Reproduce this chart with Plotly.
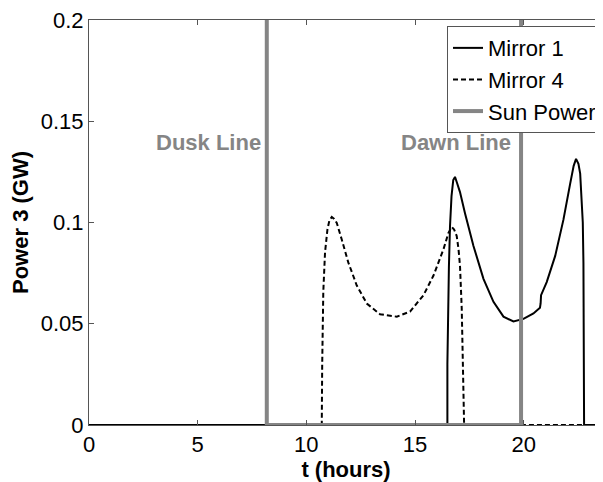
import plotly.graph_objects as go

# ---- data ----
t_mirror1 = [0, 16.49, 16.49, 16.52, 16.56, 16.61, 16.68, 16.76, 16.84, 16.92, 17.0, 17.07,
             17.30, 17.69, 18.15, 18.61, 19.07, 19.53, 19.99, 20.45, 20.75, 20.78, 20.80,
             21.06, 21.45, 21.83, 22.14, 22.30, 22.41, 22.52, 22.60, 22.66, 22.72, 22.75,
             22.76, 22.78, 24.0]
p_mirror1 = [0, 0, 0.030, 0.055, 0.078, 0.098, 0.113, 0.121, 0.1225, 0.120, 0.1175, 0.115,
             0.1046, 0.0884, 0.0722, 0.0608, 0.0535, 0.0511, 0.0524, 0.0551, 0.0579, 0.0600,
             0.0641, 0.0706, 0.0835, 0.1014, 0.1192, 0.128, 0.1314, 0.129, 0.1241, 0.114,
             0.100, 0.080, 0.045, 0, 0]

t_mirror4 = [0, 10.71, 10.73, 10.75, 10.78, 10.86, 10.97, 11.06, 11.17, 11.28, 11.40, 11.63,
             11.93, 12.32, 12.78, 13.39, 14.16, 14.77, 15.39, 15.85, 16.31, 16.54, 16.62,
             16.69, 16.80, 16.92, 17.00, 17.07, 17.15, 17.23, 17.26, 24.0]
p_mirror4 = [0, 0, 0.030, 0.0495, 0.0657, 0.0852, 0.0965, 0.1010, 0.1027, 0.1018, 0.0998,
             0.0916, 0.0803, 0.0689, 0.0600, 0.0547, 0.0535, 0.0560, 0.0641, 0.0738, 0.0868,
             0.0949, 0.0968, 0.0978, 0.0965, 0.0933, 0.087, 0.0787, 0.0576, 0.0252, 0, 0]

t_sun = [0, 8.18, 8.18, 19.88, 19.88, 24.0]
p_sun = [1.0, 1.0, 0, 0, 1.0, 1.0]

x_ticks = [0, 5, 10, 15, 20]
y_ticks = [0, 0.05, 0.1, 0.15, 0.2]
y_ticktext = ["0", "0.05", "0.1", "0.15", "0.2"]

labels = [("Dusk Line", 8.0, 0.1397), ("Dawn Line", 19.51, 0.1397)]

FONT = "Liberation Sans, Arial, Helvetica, sans-serif"
GRAY = "#858585"
AXC = "#555555"

fig = go.Figure()
fig.add_trace(go.Scatter(x=t_mirror1, y=p_mirror1, mode="lines", name="Mirror 1",
                         line=dict(color="black", width=2)))
fig.add_trace(go.Scatter(x=t_mirror4, y=p_mirror4, mode="lines", name="Mirror 4",
                         line=dict(color="black", width=2, dash="5px,3px")))
fig.add_trace(go.Scatter(x=t_sun, y=p_sun, mode="lines", name="Sun Power",
                         line=dict(color=GRAY, width=4)))

for txt, x, y in labels:
    fig.add_annotation(x=x, y=y, text="<b>%s</b>" % txt, showarrow=False,
                       xanchor="right", yanchor="middle",
                       font=dict(family=FONT, size=22, color=GRAY))

# page body has an 8px margin: plot area spans window x 89..(cropped), y 14..425
fig.update_layout(
    width=595, height=474,
    margin=dict(l=81, r=0, t=6, b=57),
    paper_bgcolor="white", plot_bgcolor="white",
    font=dict(family=FONT, size=22, color="black"),
    showlegend=True,
    legend=dict(x=0.6965, y=0.985, xanchor="left", yanchor="top",
                bgcolor="white", bordercolor=AXC, borderwidth=1,
                font=dict(family=FONT, size=22, color="black"),
                tracegroupgap=0),
    xaxis=dict(range=[0, 23.65], tickvals=x_ticks, ticks="inside", ticklen=5,
               tickcolor=AXC, showline=True, linecolor=AXC, linewidth=1,
               mirror="ticks", showgrid=False, zeroline=False,
               tickfont=dict(size=22), ticklabeloverflow="allow",
               title=dict(text="<b>t (hours)</b>", standoff=0,
                          font=dict(size=22))),
    yaxis=dict(range=[0, 0.2], tickvals=y_ticks, ticktext=y_ticktext,
               ticks="inside", ticklen=5, tickcolor=AXC, showline=True,
               linecolor=AXC, linewidth=1, showgrid=False, zeroline=False,
               tickfont=dict(size=22), ticklabeloverflow="allow",
               title=dict(text="<b>Power 3 (GW)</b>", standoff=6,
                          font=dict(size=22))),
)

fig.write_html("out.html")
